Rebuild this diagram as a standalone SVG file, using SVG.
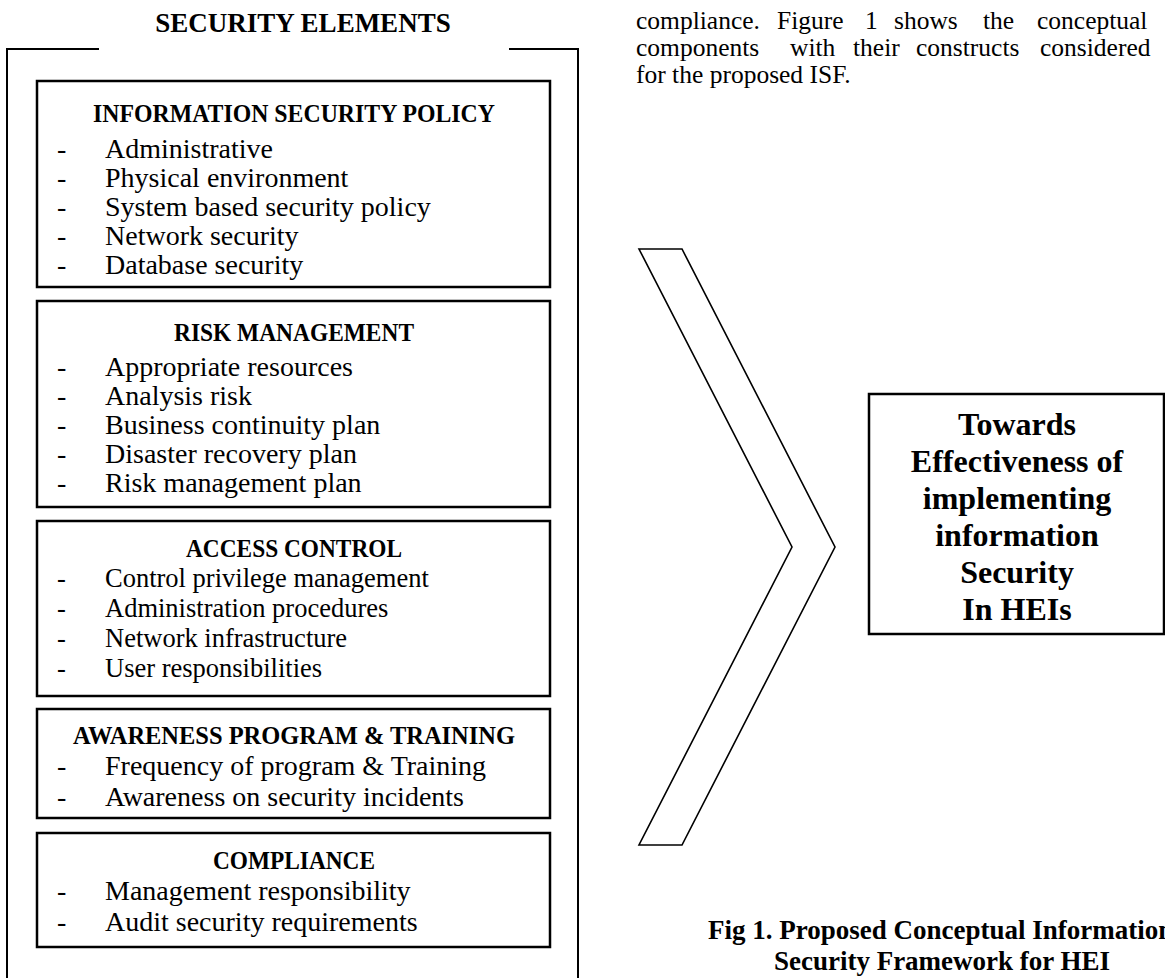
<svg xmlns="http://www.w3.org/2000/svg" width="1165" height="978" viewBox="0 0 1165 978">
  <defs>
    <style>
      .frame { fill: none; stroke: #000; stroke-width: 2; }
      .box { fill: #fff; stroke: #000; stroke-width: 2.5; }
      .chev { fill: #fff; stroke: #000; stroke-width: 1.6; stroke-linejoin: miter; }
      .serif { font-family: "Liberation Serif", "Times New Roman", serif; fill: #000; }
      .head { font-weight: bold; font-size: 26px; text-anchor: middle; }
      .item { font-size: 28px; }
      .item-s { font-size: 26.5px; }
      .title { font-weight: bold; font-size: 27px; text-anchor: middle; }
      .goal { font-weight: bold; font-size: 32px; text-anchor: middle; }
      .para { font-size: 25.5px; }
      .cap { font-weight: bold; font-size: 27px; }
    </style>
    <clipPath id="clip-awareness">
      <rect x="37" y="709" width="513" height="103"/>
    </clipPath>
  </defs>

  <!-- running paragraph text above the figure (justified lines) -->
  <g id="paragraph" class="serif para">
    <text x="636" y="29">compliance.</text>
    <text x="777" y="29">Figure</text>
    <text x="865" y="29">1</text>
    <text x="894" y="29">shows</text>
    <text x="983" y="29">the</text>
    <text x="1037" y="29">conceptual</text>
    <text x="636" y="56">components</text>
    <text x="790" y="56">with</text>
    <text x="853" y="56">their</text>
    <text x="916" y="56">constructs</text>
    <text x="1040" y="56">considered</text>
    <text x="636" y="83">for the proposed ISF.</text>
  </g>

  <!-- outer bracket frame around the security elements -->
  <g id="security-elements">
    <text class="serif title" x="303" y="32">SECURITY ELEMENTS</text>
    <path class="frame" d="M99,49 H7 V980"/>
    <path class="frame" d="M509,49 H578 V980"/>
  </g>

  <g id="information-security-policy" class="serif">
    <rect class="box" x="37" y="81" width="513" height="206"/>
    <text class="head" x="294" y="122" textLength="402" lengthAdjust="spacingAndGlyphs">INFORMATION SECURITY POLICY</text>
    <text class="item" x="57" y="158">-</text><text class="item" x="105" y="158">Administrative</text>
    <text class="item" x="57" y="187">-</text><text class="item" x="105" y="187">Physical environment</text>
    <text class="item" x="57" y="216">-</text><text class="item" x="105" y="216">System based security policy</text>
    <text class="item" x="57" y="245">-</text><text class="item" x="105" y="245">Network security</text>
    <text class="item" x="57" y="274">-</text><text class="item" x="105" y="274">Database security</text>
  </g>

  <g id="risk-management" class="serif">
    <rect class="box" x="37" y="301" width="513" height="206"/>
    <text class="head" x="294" y="341" textLength="240" lengthAdjust="spacingAndGlyphs">RISK MANAGEMENT</text>
    <text class="item" x="57" y="376">-</text><text class="item" x="105" y="376">Appropriate resources</text>
    <text class="item" x="57" y="405">-</text><text class="item" x="105" y="405">Analysis risk</text>
    <text class="item" x="57" y="434">-</text><text class="item" x="105" y="434">Business continuity plan</text>
    <text class="item" x="57" y="463">-</text><text class="item" x="105" y="463">Disaster recovery plan</text>
    <text class="item" x="57" y="492">-</text><text class="item" x="105" y="492">Risk management plan</text>
  </g>

  <g id="access-control" class="serif">
    <rect class="box" x="37" y="521" width="513" height="175"/>
    <text class="head" x="294" y="557" textLength="216" lengthAdjust="spacingAndGlyphs">ACCESS CONTROL</text>
    <text class="item-s" x="57" y="587">-</text><text class="item-s" x="105" y="587">Control privilege management</text>
    <text class="item-s" x="57" y="617">-</text><text class="item-s" x="105" y="617">Administration procedures</text>
    <text class="item-s" x="57" y="647">-</text><text class="item-s" x="105" y="647">Network infrastructure</text>
    <text class="item-s" x="57" y="677">-</text><text class="item-s" x="105" y="677">User responsibilities</text>
  </g>

  <g id="awareness-program" class="serif">
    <rect class="box" x="37" y="709" width="513" height="109"/>
    <text class="head" x="294" y="744" textLength="442" lengthAdjust="spacingAndGlyphs">AWARENESS PROGRAM &amp; TRAINING</text>
    <g clip-path="url(#clip-awareness)">
      <text class="item" x="57" y="775">-</text><text class="item" x="105" y="775">Frequency of program &amp; Training</text>
      <text class="item" x="57" y="806">-</text><text class="item" x="105" y="806">Awareness on security incidents</text>
    </g>
  </g>

  <g id="compliance" class="serif">
    <rect class="box" x="37" y="833" width="513" height="114"/>
    <text class="head" x="294" y="869" textLength="162" lengthAdjust="spacingAndGlyphs">COMPLIANCE</text>
    <text class="item" x="57" y="900">-</text><text class="item" x="105" y="900">Management responsibility</text>
    <text class="item" x="57" y="931">-</text><text class="item" x="105" y="931">Audit security requirements</text>
  </g>

  <!-- chevron leading from the elements to the outcome -->
  <g id="connectors">
    <polygon class="chev" points="639,249 682,249 835,547 682,845 639,845 792,547"/>
  </g>

  <g id="outcome" class="serif">
    <rect class="box" x="869" y="394" width="295" height="240"/>
    <text class="goal" x="1017" y="435">Towards</text>
    <text class="goal" x="1017" y="472">Effectiveness of</text>
    <text class="goal" x="1017" y="509">implementing</text>
    <text class="goal" x="1017" y="546">information</text>
    <text class="goal" x="1017" y="583">Security</text>
    <text class="goal" x="1017" y="620">In HEIs</text>
  </g>

  <g id="caption" class="serif cap">
    <text x="708" y="939">Fig 1. Proposed Conceptual Information</text>
    <text x="942" y="970" text-anchor="middle">Security Framework for HEI</text>
  </g>
</svg>
